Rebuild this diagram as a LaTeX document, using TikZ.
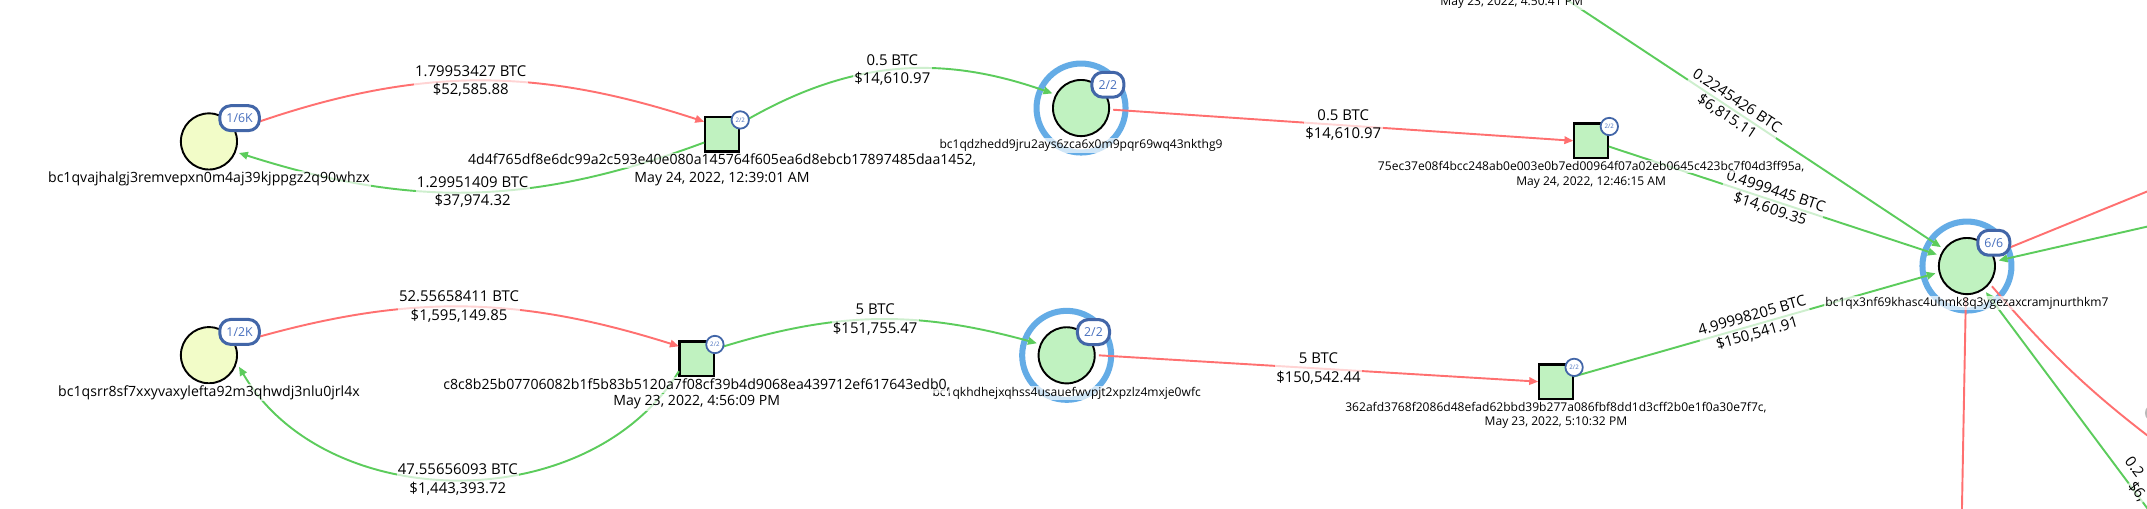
\documentclass[tikz,border=0pt]{standalone}
\usepackage{fontspec}
\setmainfont{Open Sans}
\usepackage{tikz}
\usetikzlibrary{arrows.meta}

\definecolor{sentred}{RGB}{255,112,112}
\definecolor{recvgreen}{RGB}{92,204,92}
\definecolor{fillgreen}{RGB}{192,242,192}
\definecolor{fillyellow}{RGB}{242,252,200}
\definecolor{ringblue}{RGB}{100,172,230}
\definecolor{cntblue}{RGB}{66,102,168}
\definecolor{cnttext}{RGB}{72,112,190}

\begin{document}
\begin{tikzpicture}
  [x=1pt,y=1pt,>={Triangle[length=6.5pt,width=5.5pt]},
   every node/.style={inner sep=0pt},
   addr/.style={circle,draw=black,line width=1.4pt,minimum size=41pt,outer sep=3pt},
   wallet/.style={addr,fill=fillyellow},
   hop/.style={addr,fill=fillgreen},
   txbox/.style={rectangle,draw=black,line width=1.8pt,fill=fillgreen,minimum size=25pt,outer sep=.5pt},
   ring/.style={draw=ringblue,line width=4.4pt},
   cnt/.style={draw=cntblue,fill=white,line width=2.2pt,rounded corners=8pt,minimum height=18.2pt,inner xsep=4.9pt,text=cnttext,font=\fontsize{9}{9}\selectfont},
   txcnt/.style={circle,draw=cntblue,fill=white,line width=1.3pt,minimum size=12.7pt,text=cnttext,font=\fontsize{4.5}{4.5}\selectfont},
   halo/.style={fill=white,fill opacity=.7,text opacity=1,inner sep=1pt,align=center},
   amt/.style={halo,font=\fontsize{10.9}{13.4}\selectfont},
   bigid/.style={halo,font=\fontsize{10.3}{13}\selectfont},
   smallid/.style={halo,font=\fontsize{8.8}{11}\selectfont},
   sent/.style={draw=sentred,line width=1.4pt,->},
   recv/.style={draw=recvgreen,line width=1.4pt,->}]

  \useasboundingbox (0,-371.7) rectangle (1568,0);
  \fill[white] (0,-371.7) rectangle (1568,0);
  \clip (0,-371.7) rectangle (1568,0);

  % addresses and transactions
  \node[wallet] (a1) at (152.6,-103.3) {};
  \node[txbox] (t1) at (527.3,-98) {};
  \node[hop] (a2) at (789.5,-78.9) {};
  \node[txbox] (t2) at (1162,-102.8) {};
  \node[hop] (a3) at (1436.5,-194.3) {};
  \node[wallet] (a4) at (152.6,-259.4) {};
  \node[txbox] (t3) at (508.8,-262) {};
  \node[hop] (a5) at (779,-259.5) {};
  \node[txbox] (t4) at (1136.3,-278.7) {};

  \coordinate (c1) at (1129.4,10);
  \coordinate (c2) at (1580,-135);
  \coordinate (c3) at (1580,-162.8);
  \coordinate (c4) at (1432.6,-385);
  \coordinate (c5) at (1580,-327);
  \coordinate (c6) at (1580,-387);

\foreach \n in {a2,a3,a5}
    \draw[ring] (\n.center) circle (32.5);

  % top chain
  \draw[sent] (a1.23) to[bend left=19] node[amt,midway] {1.79953427 BTC\\\$52,585.88} (t1.145);
  \draw[recv] (t1.205) to[bend left=19] node[amt,midway] {1.29951409 BTC\\\$37,974.32} (a1.-21);
  \draw[recv] (t1.30) to[bend left=25] node[amt,midway] {0.5 BTC\\\$14,610.97} (a2.153);
  \draw[sent] (a2.-3) -- node[amt,midway] {0.5 BTC\\\$14,610.97} (t2.west);
  \draw[recv] (t2.-18) -- node[amt,midway,sloped] {0.4999445 BTC\\\$14,609.35} (a3.159);
  \draw[recv] (c1) -- node[amt,pos=.47,sloped] {0.2245426 BTC\\\$6,815.11} (a3.144);

  % bottom chain
  \draw[sent] (a4.23) to[bend left=17] node[amt,midway] {52.55658411 BTC\\\$1,595,149.85} (t3.145);
  \draw[recv] (t3.215) to[bend left=59] node[amt,midway] {47.55656093 BTC\\\$1,443,393.72} (a4.-21);
  \draw[recv] (t3.28) to[bend left=16.5] node[amt,midway] {5 BTC\\\$151,755.47} (a5.158);
  \draw[sent] (a5.east) -- node[amt,midway] {5 BTC\\\$150,542.44} (t4.west);
  \draw[recv] (t4.16) -- node[amt,midway,sloped] {4.99998205 BTC\\\$150,541.91} (a3.193);

  % edges leaving the view
  \draw[sent] (a3.24) -- (c2);
  \draw[recv] (c3) -- (a3.10);
  \draw[sent] (a3.268) -- (c4);
  \draw[sent] (a3.-39) to[bend right=6] (c5);
  \draw[recv] (c6) -- (a3.-54);
  \node[amt,rotate=-53.3] (e1) at (1559,-341) {0.2};
  \node[amt,rotate=-53.3] (e2) at (1561,-359) {\$6,};
  \node[circle,fill=gray!55,minimum size=13pt] (g1) at (1573,-301.6) {};

  % counters
  \node[cnt,anchor=west] (a1c) at ([shift={(6.8,17)}]a1.center) {1/6K};
  \node[cnt,anchor=west] (a2c) at ([shift={(6.8,17)}]a2.center) {2/2};
  \node[cnt,anchor=west] (a3c) at ([shift={(6.8,17)}]a3.center) {6/6};
  \node[cnt,anchor=west] (a4c) at ([shift={(6.8,17)}]a4.center) {1/2K};
  \node[cnt,anchor=west] (a5c) at ([shift={(6.8,17)}]a5.center) {2/2};
\foreach \t in {t1,t2,t3,t4}
    \node[txcnt] (\t c) at ([shift={(13.3,10.4)}]\t.center) {2/2};

  % labels
  \node[bigid] (a1n) at ([yshift=-27.5]a1.center) {bc1qvajhalgj3remvepxn0m4aj39kjppgz2q90whzx};
  \node[bigid] (a4n) at ([yshift=-27.5]a4.center) {bc1qsrr8sf7xxyvaxylefta92m3qhwdj3nlu0jrl4x};
  \node[smallid] (a2n) at ([yshift=-27.5]a2.center) {bc1qdzhedd9jru2ays6zca6x0m9pqr69wq43nkthg9};
  \node[smallid] (a3n) at ([yshift=-27]a3.center) {bc1qx3nf69khasc4uhmk8q3ygezaxcramjnurthkm7};
  \node[smallid] (a5n) at ([yshift=-27.5]a5.center) {bc1qkhdhejxqhss4usauefwvpjt2xpzlz4mxje0wfc};
  \node[bigid,anchor=base] (t1n) at ([yshift=-22.5]t1.center) {4d4f765df8e6dc99a2c593e40e080a145764f605ea6d8ebcb17897485daa1452,};
  \node[bigid,anchor=base] (t1d) at ([yshift=-35.5]t1.center) {May 24, 2022, 12:39:01 AM};
  \node[bigid,anchor=base] (t3n) at ([yshift=-22.5]t3.center) {c8c8b25b07706082b1f5b83b5120a7f08cf39b4d9068ea439712ef617643edb0,};
  \node[bigid,anchor=base] (t3d) at ([yshift=-34.5]t3.center) {May 23, 2022, 4:56:09 PM};
  \node[smallid,anchor=base] (t2n) at ([yshift=-21.6]t2.center) {75ec37e08f4bcc248ab0e003e0b7ed00964f07a02eb0645c423bc7f04d3ff95a,};
  \node[smallid,anchor=base] (t2d) at ([yshift=-32.6]t2.center) {May 24, 2022, 12:46:15 AM};
  \node[smallid,anchor=base] (t4n) at ([yshift=-21.5]t4.center) {362afd3768f2086d48efad62bbd39b277a086fbf8dd1d3cff2b0e1f0a30e7f7c,};
  \node[smallid,anchor=base] (t4d) at ([yshift=-32.2]t4.center) {May 23, 2022, 5:10:32 PM};
  \node[smallid,anchor=base] (t0d) at (1104,-4) {May 23, 2022, 4:50:41 PM};

\end{tikzpicture}
\end{document}
